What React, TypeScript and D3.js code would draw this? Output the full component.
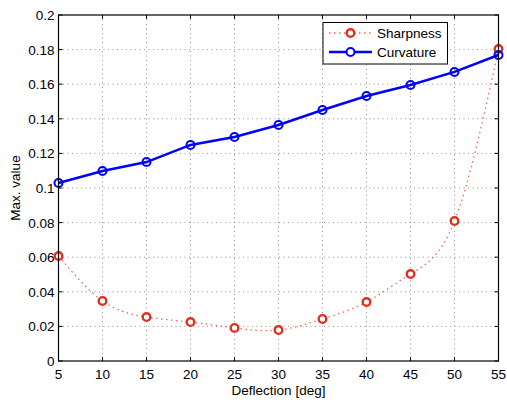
import React from "react";
import * as d3 from "d3";

const deflection = [5, 10, 15, 20, 25, 30, 35, 40, 45, 50, 55];
const sharpness = [0.0607, 0.0347, 0.0254, 0.0225, 0.0191, 0.0179, 0.0243, 0.0341, 0.0503, 0.0809, 0.1803];
const curvature = [0.1029, 0.1098, 0.115, 0.1249, 0.1295, 0.1364, 0.1451, 0.1532, 0.1595, 0.1671, 0.1769];
const xTicks = [5, 10, 15, 20, 25, 30, 35, 40, 45, 50, 55];
const yTicks = [0, 0.02, 0.04, 0.06, 0.08, 0.1, 0.12, 0.14, 0.16, 0.18, 0.2];

export default function App() {
  const W = 507, H = 403;
  const L = 58.5, R = 498.5, T = 15, B = 361;
  const x = d3.scaleLinear().domain([5, 55]).range([L, R]);
  const y = d3.scaleLinear().domain([0, 0.2]).range([B, T]);
  const font = "Arial, 'Liberation Sans', Helvetica, sans-serif";
  const fs = 13.5;

  const sharpPts: [number, number][] = deflection.map((d, i) => [x(d), y(sharpness[i])]);
  const curvPts: [number, number][] = deflection.map((d, i) => [x(d), y(curvature[i])]);
  const sharpPath = d3.line().curve(d3.curveNatural)(sharpPts) || "";
  const curvPath = d3.line()(curvPts) || "";

  const red = "#e0301e";
  const redLine = "#ee6a50";
  const blue = "#0000ff";

  return (
    <svg width={W} height={H} style={{ position: "absolute", left: 0, top: 0, background: "#fff" }}>
      <rect x={0} y={0} width={W} height={H} fill="#fff" />
      {/* grid */}
      {xTicks.slice(1, -1).map((t) => (
        <line key={"gx" + t} x1={x(t)} x2={x(t)} y1={T} y2={B} stroke="#777" strokeWidth={0.8} strokeDasharray="1,3.5" />
      ))}
      {yTicks.slice(1, -1).map((t) => (
        <line key={"gy" + t} x1={L} x2={R} y1={y(t)} y2={y(t)} stroke="#777" strokeWidth={0.8} strokeDasharray="1,3.5" />
      ))}
      {/* ticks */}
      {xTicks.map((t) => (
        <g key={"tx" + t}>
          <line x1={x(t)} x2={x(t)} y1={B} y2={B - 4} stroke="#000" strokeWidth={1} />
          <line x1={x(t)} x2={x(t)} y1={T} y2={T + 4} stroke="#000" strokeWidth={1} />
          <text x={x(t)} y={B + 18} textAnchor="middle" fontFamily={font} fontSize={fs} fill="#000">{t}</text>
        </g>
      ))}
      {yTicks.map((t) => (
        <g key={"ty" + t}>
          <line x1={L} x2={L + 4} y1={y(t)} y2={y(t)} stroke="#000" strokeWidth={1} />
          <line x1={R} x2={R - 4} y1={y(t)} y2={y(t)} stroke="#000" strokeWidth={1} />
          <text x={L - 4} y={y(t) + 5} textAnchor="end" fontFamily={font} fontSize={fs} fill="#000">{t === 0 ? "0" : String(t)}</text>
        </g>
      ))}
      {/* series */}
      <path d={sharpPath} fill="none" stroke={redLine} strokeWidth={1.3} strokeDasharray="1.5,3.5" />
      <path d={curvPath} fill="none" stroke={blue} strokeWidth={2.5} />
      {sharpPts.map((p, i) => (
        <circle key={"sp" + i} cx={p[0]} cy={p[1]} r={3.8} fill="#fff" stroke={red} strokeWidth={2.4} />
      ))}
      {curvPts.map((p, i) => (
        <circle key={"cp" + i} cx={p[0]} cy={p[1]} r={4} fill="none" stroke={blue} strokeWidth={2} />
      ))}
      {/* axes box */}
      <rect x={L} y={T} width={R - L} height={B - T} fill="none" stroke="#000" strokeWidth={1.2} />
      {/* legend */}
      <g>
        <rect x={323} y={22.5} width={124.5} height={41.5} fill="#fff" stroke="#000" strokeWidth={1} />
        <line x1={329} x2={372} y1={33} y2={33} stroke={redLine} strokeWidth={1.3} strokeDasharray="1.5,3.5" />
        <circle cx={350.5} cy={33} r={3.8} fill="#fff" stroke={red} strokeWidth={2.4} />
        <text x={377} y={38} fontFamily={font} fontSize={fs} fill="#000">Sharpness</text>
        <line x1={329} x2={372} y1={52} y2={52} stroke={blue} strokeWidth={2.5} />
        <circle cx={350.5} cy={52} r={4} fill="#fff" stroke={blue} strokeWidth={2} />
        <text x={377} y={57} fontFamily={font} fontSize={fs} fill="#000">Curvature</text>
      </g>
      {/* labels */}
      <text x={(L + R) / 2} y={395} textAnchor="middle" fontFamily={font} fontSize={fs} fill="#000">Deflection [deg]</text>
      <text transform={`translate(20,${(T + B) / 2}) rotate(-90)`} textAnchor="middle" fontFamily={font} fontSize={fs} fill="#000">Max. value</text>
    </svg>
  );
}
